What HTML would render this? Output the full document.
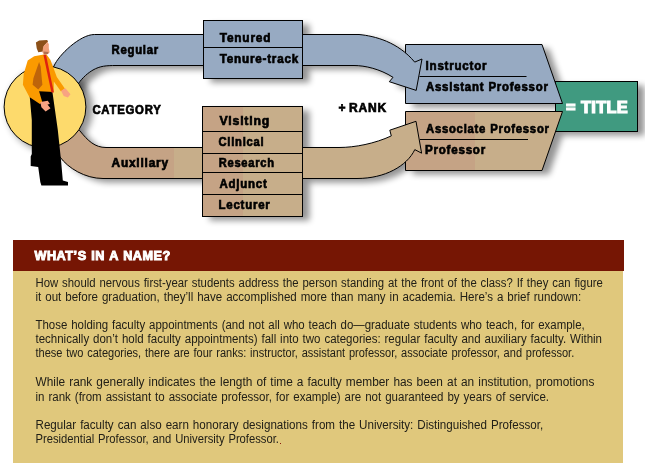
<!DOCTYPE html>
<html><head><meta charset="utf-8">
<style>
html,body{margin:0;padding:0;background:#fff;}
body{width:645px;height:468px;overflow:hidden;}
svg{display:block;will-change:transform;}
.lb{font-family:"Liberation Sans",sans-serif;font-weight:bold;font-size:12px;fill:#000;stroke:#000;stroke-width:0.65px;letter-spacing:0.8px;word-spacing:0.3px;}
.wt{fill:#fff;stroke:#fff;stroke-width:0.9px;}
.bt{font-family:"Liberation Sans",sans-serif;font-size:12.3px;fill:#222018;word-spacing:0.8px;}
</style></head><body>
<svg width="645" height="468" viewBox="0 0 645 468">
<defs>
<filter id="sh" x="-30%" y="-30%" width="160%" height="160%"><feGaussianBlur stdDeviation="3"/></filter>
<filter id="sh2" x="-50%" y="-50%" width="200%" height="200%"><feGaussianBlur stdDeviation="3.5"/></filter>
</defs>
<rect width="645" height="468" fill="#fff"/>
<g filter="url(#sh)" fill="#000" opacity="0.42" transform="translate(7,4)">
<path d="M50,110 L50,73 L54,66 C58.5,55.2 80,34.5 94.4,34.5 L359,34.5 C375,36 398,42 414.7,62.1 L422,59 L416.2,90.4 L389.3,81.7 L393,77.3 C380,69 365,65.5 354,65.5 L116,65.5 C106,65.5 100,66 93,70 C88,73 83,77 78,84 L70,110 Z"/><path d="M55,120 L79.6,130.5 C88,141 95,147.5 106,147.5 L339,147.5 C355,147.5 375,143.5 391.3,135.9 L389.8,130.2 L416,121.3 L421.6,153.2 L414.8,149.6 C407,166 385,178.5 357,178.5 L103,178.5 C85,178.5 68,168 60,157 L40,130 Z"/>
<rect x="203.5" y="20.5" width="99" height="58" />
<rect x="202.5" y="106.5" width="100" height="110" />
<path d="M405.5,44.5 L542,44.5 L562.5,103.5 L405.5,103.5 Z"/><path d="M405.5,111.5 L562.5,111.5 L542,170.5 L405.5,170.5 Z"/>
<rect x="555.5" y="81.5" width="82" height="50" />
</g>
<g filter="url(#sh2)" fill="#000" opacity="0.42"><circle cx="50" cy="108.9" r="42.9"/></g>
<rect x="555.5" y="81.5" width="82" height="50" fill="#409a80" stroke="#000" stroke-width="1"/>
<path d="M405.5,44.5 L542,44.5 L562.5,103.5 L405.5,103.5 Z" fill="#97aac2" stroke="#000" stroke-width="1"/>
<clipPath id="ctb"><path d="M405.5,111.5 L562.5,111.5 L542,170.5 L405.5,170.5 Z"/></clipPath>
<path d="M405.5,111.5 L562.5,111.5 L542,170.5 L405.5,170.5 Z" fill="#c7ae8a"/>
<rect x="405" y="111" width="70" height="60" fill="#c5a385" clip-path="url(#ctb)"/>
<path d="M405.5,111.5 L562.5,111.5 L542,170.5 L405.5,170.5 Z" fill="none" stroke="#000" stroke-width="1"/>
<line x1="419.5" y1="76.5" x2="526.5" y2="76.5" stroke="#000" stroke-width="1"/>
<line x1="420" y1="139.5" x2="528" y2="139.5" stroke="#000" stroke-width="1"/>
<path d="M50,110 L50,73 L54,66 C58.5,55.2 80,34.5 94.4,34.5 L359,34.5 C375,36 398,42 414.7,62.1 L422,59 L416.2,90.4 L389.3,81.7 L393,77.3 C380,69 365,65.5 354,65.5 L116,65.5 C106,65.5 100,66 93,70 C88,73 83,77 78,84 L70,110 Z" fill="#97aac2" stroke="#000" stroke-width="1"/>
<clipPath id="cbb"><path d="M55,120 L79.6,130.5 C88,141 95,147.5 106,147.5 L339,147.5 C355,147.5 375,143.5 391.3,135.9 L389.8,130.2 L416,121.3 L421.6,153.2 L414.8,149.6 C407,166 385,178.5 357,178.5 L103,178.5 C85,178.5 68,168 60,157 L40,130 Z"/></clipPath>
<path d="M55,120 L79.6,130.5 C88,141 95,147.5 106,147.5 L339,147.5 C355,147.5 375,143.5 391.3,135.9 L389.8,130.2 L416,121.3 L421.6,153.2 L414.8,149.6 C407,166 385,178.5 357,178.5 L103,178.5 C85,178.5 68,168 60,157 L40,130 Z" fill="#c7ae8a"/>
<rect x="30" y="100" width="144" height="90" fill="#c5a385" clip-path="url(#cbb)"/>
<path d="M55,120 L79.6,130.5 C88,141 95,147.5 106,147.5 L339,147.5 C355,147.5 375,143.5 391.3,135.9 L389.8,130.2 L416,121.3 L421.6,153.2 L414.8,149.6 C407,166 385,178.5 357,178.5 L103,178.5 C85,178.5 68,168 60,157 L40,130 Z" fill="none" stroke="#000" stroke-width="1"/>
<rect x="203.5" y="20.5" width="99" height="58" fill="#97aac2" stroke="#000" stroke-width="1"/>
<line x1="203.5" y1="47.5" x2="302.5" y2="47.5" stroke="#000"/>
<rect x="202.5" y="106.5" width="100" height="110" fill="#c7ae8a"/>
<rect x="203" y="107" width="40" height="109.5" fill="#c5a385"/>
<rect x="202.5" y="106.5" width="100" height="110" fill="none" stroke="#000" stroke-width="1"/>
<line x1="202.5" y1="131.5" x2="302.5" y2="131.5" stroke="#000"/>
<line x1="202.5" y1="153.5" x2="302.5" y2="153.5" stroke="#000"/>
<line x1="202.5" y1="172.5" x2="302.5" y2="172.5" stroke="#000"/>
<line x1="202.5" y1="194.5" x2="302.5" y2="194.5" stroke="#000"/>
<circle cx="45" cy="106.9" r="40.9" fill="#fdda6c" stroke="#000" stroke-width="1"/>
<polygon points="29.6,95 39,89 52,89 57.8,130 61,160 62.8,180.5 68,182 68,185.5 41.4,185.5 40.3,182 38.2,167 30.7,166 30.7,156.4 31.8,154 31.8,120" fill="#000"/>
<polygon points="34.2,56.3 42.4,54.7 46.4,54.2 50.5,60 56.8,77.1 64.8,88.5 61,91.5 53.8,81.5 53.8,92 39.1,91.2 42.4,102.6 39.9,104 29.4,96.9 22.9,84.7 23.7,74.1 27.7,60.4" fill="#fa9a00"/>
<polygon points="39.1,62 33.4,78.2 32.6,84.7 38.3,89.6 42.4,84.7 41.5,75.8 40.7,66.8" fill="#be640a"/>
<polygon points="43.4,54.7 46,54.7 53.9,92.5 51.4,92.5" fill="#e0230f"/>
<polygon points="35.9,42.5 39.1,40.5 47.2,40.1 48,41.7 46.4,43.3 44,45.7 43.2,51.4 38.3,52.2 36.7,48.2" fill="#8c5018"/>
<polygon points="47.2,41.7 48.8,44.1 48.8,48.2 49.7,52.2 48,53.9 44,54.7 42.4,52.2 43.2,46.6 46.4,43.3" fill="#f0a07a"/>
<polygon points="43.5,51.5 48.5,52 48,53.9 44,54.5" fill="#b07050"/>
<polygon points="61.1,90.8 65.4,88.2 70.5,94.2 67.9,97.6 63.7,95.9" fill="#f8a382"/>
<polygon points="40.3,101.9 47.8,100.8 49.9,104 47.5,104.5 50.5,108.2 45.6,111.5 41.4,107.2" fill="#f8a382"/>
<text class="lb" x="111.50" y="54" textLength="47.50" lengthAdjust="spacingAndGlyphs">Regular</text>
<text class="lb" x="92.40" y="114" textLength="69.20" lengthAdjust="spacingAndGlyphs">CATEGORY</text>
<text class="lb" x="111.50" y="167.4" textLength="57.40" lengthAdjust="spacingAndGlyphs">Auxiliary</text>
<text class="lb" x="219.80" y="41.6" textLength="51.40" lengthAdjust="spacingAndGlyphs">Tenured</text>
<text class="lb" x="219.80" y="63" textLength="79.20" lengthAdjust="spacingAndGlyphs">Tenure-track</text>
<text class="lb" x="219.50" y="125.4" textLength="50.60" lengthAdjust="spacingAndGlyphs">Visiting</text>
<text class="lb" x="218.50" y="145.5" textLength="45.80" lengthAdjust="spacingAndGlyphs">Clinical</text>
<text class="lb" x="218.70" y="167.1" textLength="56.00" lengthAdjust="spacingAndGlyphs">Research</text>
<text class="lb" x="219.50" y="187.5" textLength="48.00" lengthAdjust="spacingAndGlyphs">Adjunct</text>
<text class="lb" x="218.50" y="209" textLength="52.00" lengthAdjust="spacingAndGlyphs">Lecturer</text>
<text class="lb" x="338.50" y="111.7" textLength="48.60" lengthAdjust="spacingAndGlyphs" style="word-spacing:-1.5px">+ RANK</text>
<text class="lb" x="425.60" y="70" textLength="61.70" lengthAdjust="spacingAndGlyphs">Instructor</text>
<text class="lb" x="426.00" y="90.7" textLength="122.60" lengthAdjust="spacingAndGlyphs">Assistant Professor</text>
<text class="lb" x="426.00" y="132.6" textLength="123.70" lengthAdjust="spacingAndGlyphs">Associate Professor</text>
<text class="lb" x="425.00" y="153.5" textLength="61.00" lengthAdjust="spacingAndGlyphs">Professor</text>
<text class="lb wt" x="566" y="112.5" style="font-size:16px;stroke-width:1.2px;letter-spacing:0.3px" textLength="62" lengthAdjust="spacingAndGlyphs">= TITLE</text>
<rect x="13" y="240" width="610" height="223" fill="#e0c87c"/>
<rect x="13" y="240" width="611" height="31" fill="#761604"/>
<text class="lb wt" x="34.4" y="260" style="font-size:12px;word-spacing:0.6px;letter-spacing:0.5px" textLength="136.5" lengthAdjust="spacingAndGlyphs">WHAT’S IN A NAME?</text>
<rect x="280" y="443" width="1" height="1" fill="#8a1a0a"/>
<text class="bt" x="35.5" y="287.2" textLength="567.3" lengthAdjust="spacingAndGlyphs">How should nervous first-year students address the person standing at the front of the class? If they can figure</text>
<text class="bt" x="35.5" y="301" textLength="545.7" lengthAdjust="spacingAndGlyphs">it out before graduation, they’ll have accomplished more than many in academia. Here’s a brief rundown:</text>
<text class="bt" x="35.5" y="329" textLength="549.2" lengthAdjust="spacingAndGlyphs">Those holding faculty appointments (and not all who teach do—graduate students who teach, for example,</text>
<text class="bt" x="35.5" y="343.3" textLength="566.5" lengthAdjust="spacingAndGlyphs">technically don’t hold faculty appointments) fall into two categories: regular faculty and auxiliary faculty. Within</text>
<text class="bt" x="35.5" y="357.3" textLength="538.7" lengthAdjust="spacingAndGlyphs">these two categories, there are four ranks: instructor, assistant professor, associate professor, and professor.</text>
<text class="bt" x="35.5" y="385.6" textLength="558.9" lengthAdjust="spacingAndGlyphs">While rank generally indicates the length of time a faculty member has been at an institution, promotions</text>
<text class="bt" x="35.5" y="400.6" textLength="513.5" lengthAdjust="spacingAndGlyphs">in rank (from assistant to associate professor, for example) are not guaranteed by years of service.</text>
<text class="bt" x="35.5" y="429" textLength="507.7" lengthAdjust="spacingAndGlyphs">Regular faculty can also earn honorary designations from the University: Distinguished Professor,</text>
<text class="bt" x="35.5" y="443.2" textLength="243.5" lengthAdjust="spacingAndGlyphs">Presidential Professor, and University Professor.</text>
</svg>
</body></html>
